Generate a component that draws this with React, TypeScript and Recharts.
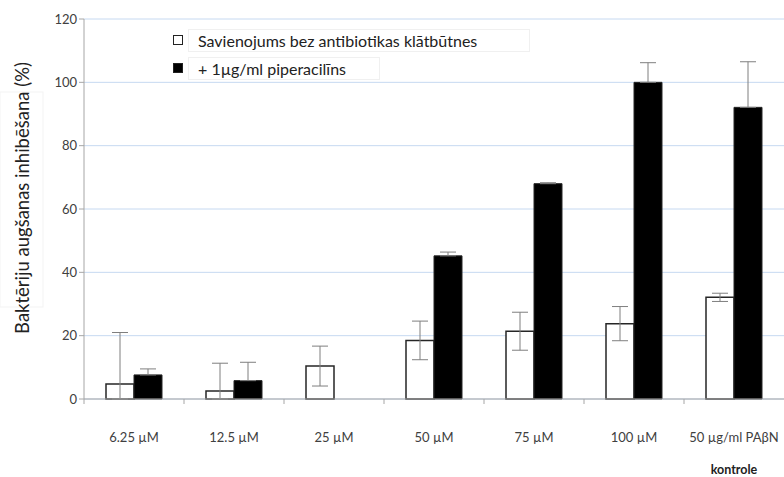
import React from 'react';
import { BarChart, Bar, XAxis, YAxis, CartesianGrid, ErrorBar } from 'recharts';

const categories = ['6.25 µM', '12.5 µM', '25 µM', '50 µM', '75 µM', '100 µM', '50 µg/ml PAβN'];
const withoutAntibiotic = [4.7, 2.5, 10.4, 18.5, 21.4, 23.8, 32.1];
const withoutAntibioticErr: [number, number][] = [[4.7, 16.3], [2.5, 8.8], [6.3, 6.3], [6.1, 6.1], [6.0, 6.0], [5.4, 5.4], [1.3, 1.3]];
const withPiperacillin = [7.6, 5.8, 0, 45.2, 68.0, 100.0, 92.1];
const withPiperacillinErr: [number, number][] = [[0, 1.9], [0, 5.8], [0, 0.5], [0, 1.2], [0, 0.3], [0, 6.2], [0, 14.4]];
const yTicks = [0, 20, 40, 60, 80, 100, 120];
const seriesNames = ['Savienojums bez antibiotikas klātbūtnes', '+ 1µg/ml piperacilīns'];
const yTitle = 'Baktēriju augšanas inhibēšana (%)';
const groupLabel = 'kontrole';

const data = categories.map((c, i) => ({
  name: c,
  a: withoutAntibiotic[i],
  aErr: withoutAntibioticErr[i],
  b: withPiperacillin[i],
  bErr: withPiperacillinErr[i],
}));

const W = 784;
const H = 477;
const LEFT = 84;
const band = (W - LEFT) / categories.length;
const FONT = 'Lato, "Open Sans", sans-serif';

const XTick = (props: any) => {
  const { x, y, payload, index } = props;
  return (
    <g>
      <line x1={x - band / 2} x2={x - band / 2} y1={y - 8} y2={y - 3} stroke="#a6a6a6" />
      <text x={x} y={y + 35} textAnchor="middle" fontFamily={FONT} fontSize={13} fill="#404040">
        {payload.value}
      </text>
      {index === categories.length - 1 && (
        <text x={x} y={y + 67} textAnchor="middle" fontFamily={FONT} fontSize={12.5} fontWeight="bold" fill="#222">
          {groupLabel}
        </text>
      )}
    </g>
  );
};

const YTitle = () => (
  <g>
    <rect x={0} y={92} width={43} height={215} fill="none" stroke="#f3f3f3" />
    <text
      x={22}
      y={198}
      transform="rotate(-90 22 198)"
      textAnchor="middle"
      dominantBaseline="central"
      fontFamily={FONT}
      fontSize={18.5}
      fill="#222"
    >
      {yTitle}
    </text>
  </g>
);

const LegendBox = () => (
  <div style={{ position: 'absolute', left: 173, top: 26, fontFamily: FONT, fontSize: 16, color: '#222' }}>
    {seriesNames.map((n, i) => (
      <div key={n} style={{ display: 'flex', alignItems: 'center', height: 28 }}>
        <span
          style={{
            display: 'inline-block',
            width: 10,
            height: 10,
            boxSizing: 'border-box',
            border: '1px solid #222',
            background: i === 0 ? '#fff' : '#000',
            marginRight: 5,
          }}
        />
        <span style={{ border: '1px solid #f0f0f0', padding: '1px 9px', width: i === 0 ? 342 : 192, boxSizing: 'border-box', whiteSpace: 'nowrap' }}>{n}</span>
      </div>
    ))}
  </div>
);

export default function App() {
  return (
    <div style={{ position: 'absolute', left: 0, top: 0, width: W, height: H, background: '#fff' }}>
      <BarChart
        width={W}
        height={H}
        data={data}
        margin={{ top: 19, right: 0, bottom: 0, left: 0 }}
        barCategoryGap="22%"
        barGap={0}
      >
        <CartesianGrid vertical={false} stroke="#c6d9f1" />
        <XAxis
          dataKey="name"
          axisLine={{ stroke: '#a6a6a6' }}
          tickLine={false}
          tick={<XTick />}
          interval={0}
          height={78}
        />
        <YAxis
          width={LEFT}
          domain={[0, 120]}
          ticks={yTicks}
          axisLine={{ stroke: '#a6a6a6' }}
          tickLine={{ stroke: '#a6a6a6' }}
          tickSize={5}
          tick={{ fontFamily: FONT, fontSize: 13, fill: '#404040' }}
          label={{ content: () => <YTitle /> }}
        />
        <Bar dataKey="a" fill="#fff" stroke="#262626" strokeWidth={1.5} isAnimationActive={false}>
          <ErrorBar dataKey="aErr" width={8} stroke="#7f7f7f" strokeWidth={1} direction="y" />
        </Bar>
        <Bar dataKey="b" fill="#000" stroke="#262626" strokeWidth={1} isAnimationActive={false}>
          <ErrorBar dataKey="bErr" width={8} stroke="#7f7f7f" strokeWidth={1} direction="y" />
        </Bar>
      </BarChart>
      <LegendBox />
    </div>
  );
}
